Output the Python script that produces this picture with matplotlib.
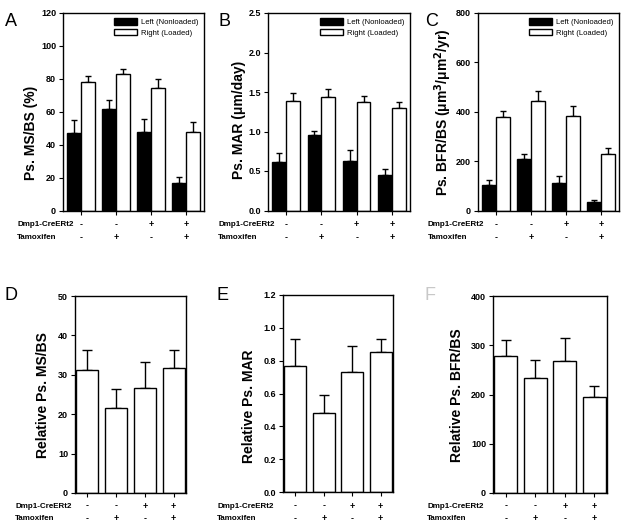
import numpy as np
import matplotlib
matplotlib.use("Agg")
import matplotlib.pyplot as plt
from matplotlib.patches import Patch

plt.rcParams["font.family"] = ["Liberation Sans", "DejaVu Sans"]

# top row: left (nonloaded) vs right (loaded)
ms_left = [47, 61.5, 48, 17]
ms_left_err = [55, 67, 55.5, 20.5]
ms_right = [78, 83, 74.5, 48]
ms_right_err = [82, 86, 80, 54]

mar_left = [0.61, 0.96, 0.63, 0.45]
mar_left_err = [0.73, 1.01, 0.77, 0.53]
mar_right = [1.38, 1.44, 1.37, 1.30]
mar_right_err = [1.49, 1.54, 1.45, 1.37]

bfr_left = [103, 210, 113, 35]
bfr_left_err = [122, 229, 140, 44]
bfr_right = [380, 443, 382, 228]
bfr_right_err = [405, 485, 423, 253]

# bottom row: relative values
rel_ms = [31.2, 21.7, 26.6, 31.7]
rel_ms_err = [36.2, 26.3, 33.3, 36.3]
rel_mar = [0.77, 0.48, 0.73, 0.85]
rel_mar_err = [0.93, 0.59, 0.89, 0.93]
rel_bfr = [278, 234, 269, 195]
rel_bfr_err = [311, 270, 314, 217]

dmp1 = ["-", "-", "+", "+"]
tamox = ["-", "+", "-", "+"]

W, H = 626, 528
fig = plt.figure(figsize=(W / 100, H / 100), dpi=100)


def px_axes(left, top, right, bottom):
    return fig.add_axes([left / W, 1 - bottom / H, (right - left) / W, (bottom - top) / H])


def style(ax, ymax, step, fmt):
    ax.set_ylim(0, ymax)
    ax.set_yticks(np.arange(0, ymax + step / 2, step))
    ax.set_yticklabels([fmt.format(v) for v in np.arange(0, ymax + step / 2, step)],
                       fontsize=6.5, fontweight="bold")
    ax.set_xticks(range(4))
    ax.set_xticklabels([])
    ax.tick_params(length=3, width=0.8, pad=2)
    for s in ax.spines.values():
        s.set_linewidth(1.0)


def upper_err(ax, x, val, top, cap):
    val = np.array(val)
    top = np.array(top)
    ax.errorbar(x, val, yerr=[np.zeros(4), top - val], fmt="none", ecolor="black",
                elinewidth=1.0, capsize=cap, capthick=1.0, zorder=1)


def row_labels(x0, y1, y2, ax_pos, ticks_px):
    fig.text(x0 / W, 1 - y1 / H, "Dmp1-CreERt2", fontsize=5.8, fontweight="bold", va="center")
    fig.text(x0 / W, 1 - y2 / H, "Tamoxifen", fontsize=5.8, fontweight="bold", va="center")
    for tx, a, b in zip(ticks_px, dmp1, tamox):
        fig.text(tx / W, 1 - y1 / H, a, fontsize=6.5, fontweight="bold", ha="center", va="center")
        fig.text(tx / W, 1 - y2 / H, b, fontsize=6.5, fontweight="bold", ha="center", va="center")


x = np.arange(4)
bw = 0.39
top_panels = [
    ((63, 13, 204, 210.5), ms_left, ms_left_err, ms_right, ms_right_err, 120, 20, "{:.0f}",
     "Ps. MS/BS (%)", (31, 133), "A", (5, 22), 17),
    ((268, 13, 410, 210.5), mar_left, mar_left_err, mar_right, mar_right_err, 2.5, 0.5, "{:.1f}",
     "Ps. MAR (\u03bcm/day)", (239, 120), "B", (219, 22), 218),
    ((478, 13, 619, 210.5), bfr_left, bfr_left_err, bfr_right, bfr_right_err, 800, 200, "{:.0f}",
     "Ps. BFR/BS (\u03bcm$^\\mathbf{3}$/\u03bcm$^\\mathbf{2}$/yr)", (443, 112), "C", (425, 22), 428),
]

for pos, lv, le, rv, re_, ymax, step, fmt, ylab, lpos, letter, letpos, rx in top_panels:
    ax = px_axes(*pos)
    ax.bar(x - bw / 2, lv, bw, color="black", edgecolor="black", linewidth=1.0, zorder=2)
    ax.bar(x + bw / 2, rv, bw, color="white", edgecolor="black", linewidth=1.0, zorder=2)
    upper_err(ax, x - bw / 2, lv, le, 2.5)
    upper_err(ax, x + bw / 2, rv, re_, 2.5)
    ax.set_xlim(-0.51, 3.51)
    style(ax, ymax, step, fmt)
    handles = [Patch(facecolor="black", edgecolor="black", label="Left (Nonloaded)"),
               Patch(facecolor="white", edgecolor="black", label="Right (Loaded)")]
    ax.legend(handles=handles, loc="upper right", fontsize=5.5, frameon=False,
              handlelength=3.0, handleheight=0.9, handletextpad=0.6, labelspacing=0.35,
              borderaxespad=0.3)
    fig.text(lpos[0] / W, 1 - lpos[1] / H, ylab, rotation=90, fontsize=10, fontweight="bold",
             ha="center", va="center")
    fig.text(letpos[0] / W, 1 - letpos[1] / H, letter, fontsize=13, va="center")
    l, t, r, b = pos
    unit = (r - l) / 4.02
    ticks_px = [l + (i + 0.51) * unit for i in range(4)]
    row_labels(rx, 225, 238, pos, ticks_px)

bw2 = 0.77
bottom_panels = [
    ((75, 296, 186, 493), rel_ms, rel_ms_err, 50, 10, "{:.0f}", "Relative Ps. MS/BS",
     (43, 395), "D", (5, 296), "black", 15),
    ((283, 295, 393, 492), rel_mar, rel_mar_err, 1.2, 0.2, "{:.1f}", "Relative Ps. MAR",
     (249, 406), "E", (217, 296), "black", 217),
    ((493, 296, 607, 493), rel_bfr, rel_bfr_err, 400, 100, "{:.0f}", "Relative Ps. BFR/BS",
     (457, 395), "F", (425, 296), "#c8c8c8", 427),
]

for pos, v, e, ymax, step, fmt, ylab, lpos, letter, letpos, lcol, rx in bottom_panels:
    ax = px_axes(*pos)
    ax.bar(x, v, bw2, color="white", edgecolor="black", linewidth=1.0, zorder=2)
    upper_err(ax, x, v, e, 3.5)
    ax.set_xlim(-0.43, 3.43)
    style(ax, ymax, step, fmt)
    fig.text(lpos[0] / W, 1 - lpos[1] / H, ylab, rotation=90, fontsize=10, fontweight="bold",
             ha="center", va="center")
    fig.text(letpos[0] / W, 1 - letpos[1] / H, letter, fontsize=13, va="center", color=lcol)
    l, t, r, b = pos
    unit = (r - l) / 3.86
    ticks_px = [l + (i + 0.43) * unit for i in range(4)]
    row_labels(rx, 506, 519, pos, ticks_px)

fig.savefig("out.png", dpi=100)
